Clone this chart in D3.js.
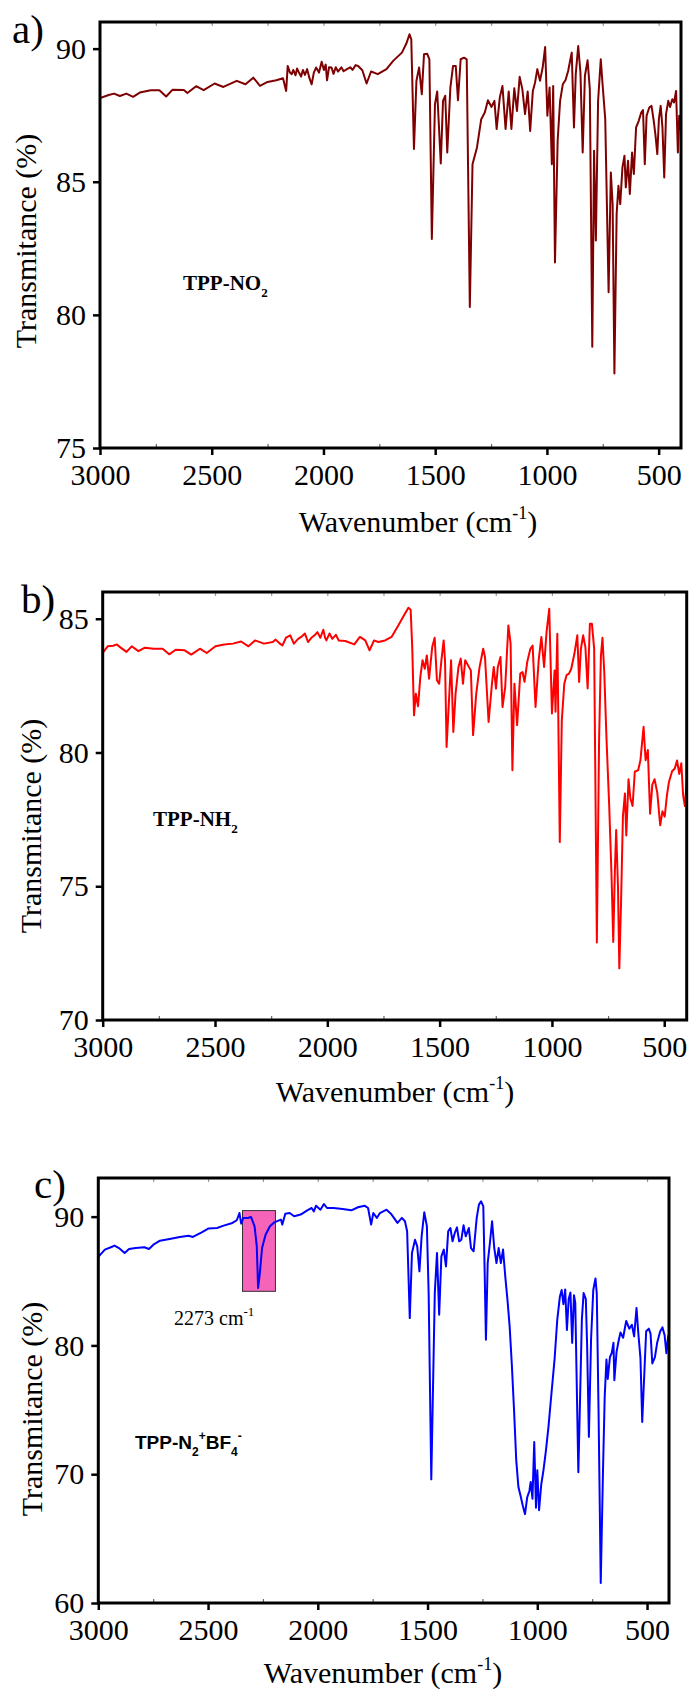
<!DOCTYPE html>
<html><head><meta charset="utf-8">
<script src="https://cdn.jsdelivr.net/npm/d3@7"></script>
<style>body{margin:0;background:#fff}svg{display:block}</style>
</head><body>
<svg id="chart" width="690" height="1693"></svg>
<script>
// ---------- tick labels ----------
const xTickValues = [3000, 2500, 2000, 1500, 1000, 500];
const xMinorValues = [2750, 2250, 1750, 1250, 750];
const yTicksA = [75, 80, 85, 90];
const yTicksB = [70, 75, 80, 85];
const yTicksC = [60, 70, 80, 90];

// ---------- series: TPP-NO2 ----------
const wavenumberA = [3000,2961,2937,2911,2882,2852,2822,2773,2734,2704,2675,2625,2609,2570,2536,2487,2448,2388,2349,2314,2284,2250,2211,2181,2167,2160,2150,2142,2135,2125,2118,2112,2100,2092,2083,2073,2063,2053,2043,2033,2020,2008,1998,1990,1984,1975,1964,1955,1945,1935,1920,1910,1895,1880,1870,1856,1845,1826,1807,1787,1757,1718,1688,1649,1629,1615,1607,1595,1584,1572,1560,1550,1536,1526,1515,1501,1491,1475,1465,1455,1446,1432,1420,1408,1398,1386,1371,1359,1345,1333,1313,1294,1278,1264,1248,1235,1225,1211,1199,1185,1171,1159,1146,1134,1122,1110,1098,1086,1075,1063,1053,1043,1031,1019,1008,998,988,978,972,964,952,941,929,917,905,895,889,879,871,860,850,840,830,818,808,797,789,781,771,759,751,739,724,714,706,698,688,680,672,662,653,647,637,629,619,611,601,589,578,570,562,554,542,532,522,514,506,499,491,483,475,467,457,449,439,431,422,414,408,400];
const transmittanceA = [88.14,88.26,88.31,88.22,88.31,88.19,88.35,88.44,88.44,88.2,88.46,88.45,88.33,88.59,88.44,88.69,88.56,88.79,88.66,88.91,88.6,88.75,88.81,88.89,88.41,89.35,89.1,89.04,89.2,89.0,89.25,89.14,88.95,89.2,89.01,89.23,88.9,88.66,89.1,89.29,89.1,89.51,89.2,89.4,88.81,89.3,89.29,89.05,89.3,89.14,89.3,89.15,89.23,89.3,89.2,89.38,89.35,89.19,88.69,89.14,89.04,89.23,89.54,89.85,90.19,90.54,90.35,86.23,88.79,89.29,88.29,89.79,89.81,89.6,82.85,87.91,88.39,85.69,88.04,88.23,86.1,88.54,89.35,89.35,88.06,89.6,89.66,89.6,80.3,85.66,86.29,87.35,87.6,88.06,87.81,88.04,86.98,88.16,88.6,86.98,88.39,86.98,88.51,87.66,88.94,88.48,87.54,88.39,86.91,88.41,88.73,89.23,88.79,89.29,90.06,87.48,88.54,85.66,88.6,81.97,86.54,88.04,88.66,88.81,89.16,89.6,89.85,87.04,89.04,90.1,89.1,86.1,88.98,89.56,88.48,78.8,86.16,82.79,88.04,89.6,88.66,87.35,80.85,85.35,84.16,77.8,83.79,84.85,84.16,85.54,85.98,84.79,85.79,84.54,86.1,85.29,87.04,87.29,87.6,87.69,85.66,87.48,87.79,87.85,87.29,86.73,86.04,87.35,87.85,87.04,85.16,87.54,88.04,87.81,88.1,87.98,88.41,86.1,87.48,86.91];

// ---------- series: TPP-NH2 ----------
const wavenumberB = [3000,2978,2953,2937,2920,2894,2871,2841,2812,2773,2733,2704,2675,2635,2606,2567,2537,2498,2459,2420,2384,2351,2322,2282,2243,2230,2214,2200,2184,2165,2149,2130,2116,2100,2086,2072,2057,2044,2031,2018,2010,2004,1990,1978,1962,1949,1920,1880,1855,1831,1812,1792,1773,1743,1714,1684,1659,1639,1629,1622,1614,1606,1596,1586,1576,1566,1557,1547,1533,1522,1512,1502,1492,1482,1476,1469,1459,1449,1439,1429,1416,1406,1396,1386,1371,1361,1351,1337,1322,1306,1298,1282,1267,1259,1249,1241,1229,1220,1208,1194,1184,1176,1167,1155,1141,1131,1122,1110,1096,1086,1073,1059,1047,1035,1024,1012,1000,988,984,976,965,956,945,935,924,914,900,887,879,871,861,851,841,831,822,812,800,790,782,775,767,757,745,735,727,720,714,706,700,692,684,675,669,659,651,641,631,616,606,592,583,573,563,553,543,531,518,508,498,488,479,465,453,443,433,424,416,408,400];
const transmittanceB = [83.72,83.97,83.99,84.04,83.92,83.76,83.97,83.79,83.92,83.88,83.88,83.67,83.84,83.82,83.66,83.88,83.72,83.97,84.04,84.07,84.15,83.97,84.19,84.07,84.13,84.22,84.09,84.0,84.29,84.38,84.07,84.25,84.32,84.45,84.13,84.28,84.38,84.5,84.29,84.59,84.3,84.19,84.45,84.25,84.4,84.19,84.17,84.04,84.32,84.19,83.82,84.19,84.13,84.19,84.32,84.75,85.12,85.41,85.34,83.94,81.39,82.2,81.73,82.82,83.45,83.13,83.63,82.76,83.94,84.29,82.7,82.57,83.45,84.19,83.45,80.21,81.83,83.45,80.77,82.2,83.2,83.51,82.57,83.45,83.22,83.07,80.65,82.2,83.2,83.88,83.57,81.14,82.57,83.2,82.39,83.2,83.57,81.7,82.45,84.75,84.07,79.34,82.57,81.02,82.95,83.01,82.64,83.38,83.88,84.0,81.7,83.45,84.32,83.2,84.5,85.37,81.46,83.07,81.52,84.44,76.65,81.2,82.57,82.89,82.95,83.13,83.69,84.38,82.64,83.88,84.38,83.94,82.39,84.81,84.81,83.88,72.9,80.5,83.6,84.29,83.0,80.5,78.0,75.5,72.92,75.5,77.1,75.0,71.93,74.5,77.6,78.47,76.9,79.0,78.3,78.0,79.28,79.34,79.71,80.96,79.71,80.09,77.71,78.8,79.0,78.5,77.28,77.8,77.6,78.4,78.9,79.3,79.4,79.7,79.2,79.6,78.4,78.0,78.9];

// ---------- series: TPP-N2+BF4- ----------
const wavenumberC = [3000,2970,2940,2926,2906,2880,2860,2830,2790,2769,2749,2719,2669,2629,2589,2569,2529,2499,2459,2429,2389,2369,2357,2349,2339,2319,2304,2288,2278,2272,2264,2254,2238,2218,2198,2168,2162,2148,2128,2108,2078,2048,2028,2018,2008,1988,1972,1958,1928,1887,1847,1817,1787,1771,1757,1747,1731,1717,1687,1667,1637,1617,1603,1593,1581,1571,1557,1547,1537,1527,1515,1503,1495,1483,1467,1457,1447,1437,1426,1416,1406,1396,1386,1376,1366,1356,1346,1336,1326,1312,1302,1290,1276,1266,1256,1246,1240,1234,1226,1216,1206,1196,1186,1176,1166,1156,1146,1136,1126,1116,1106,1096,1086,1076,1066,1056,1046,1036,1030,1022,1014,1006,1000,992,982,972,961,949,938,921,909,897,889,881,873,865,857,849,841,833,827,813,805,797,789,779,773,765,755,745,735,729,721,711,701,693,685,679,669,661,653,649,639,629,621,609,595,581,569,559,548,540,530,522,512,504,492,484,476,464,454,440,430,420,412,404,400];
const transmittanceC = [86.87,87.44,87.64,87.75,87.56,87.18,87.49,87.56,87.62,87.49,87.82,88.13,88.29,88.42,88.52,88.42,88.78,89.07,89.12,89.3,89.51,89.72,90.28,89.46,89.9,89.9,89.97,89.25,87.69,84.46,85.62,87.56,88.6,89.25,89.56,89.77,89.38,90.23,90.28,90.03,90.16,90.49,90.67,90.41,90.85,90.54,90.98,90.67,90.67,90.6,90.49,90.73,90.85,90.67,89.38,90.28,89.9,90.28,90.54,90.23,89.51,89.9,89.64,88.86,82.12,87.18,88.21,87.69,85.75,88.47,90.34,89.25,84.07,69.6,84.07,87.18,82.38,86.92,87.44,86.14,88.86,89.12,88.08,88.73,89.17,88.08,88.21,89.33,88.47,89.12,87.56,87.31,89.9,90.93,91.19,90.8,85.88,80.44,86.4,87.95,89.64,87.56,86.4,87.56,86.4,87.44,85.36,83.55,81.48,78.5,75.0,71.1,69.0,68.3,67.55,66.9,68.2,68.7,69.4,68.1,72.5,67.4,70.3,67.2,69.2,70.3,71.8,73.7,75.8,79.0,82.0,83.8,84.3,83.2,84.35,81.2,83.6,84.1,80.2,83.9,83.3,70.16,76.0,82.0,84.07,83.6,80.0,72.9,80.5,84.3,85.2,84.0,75.0,61.56,70.0,76.0,78.9,77.4,79.1,79.4,80.2,77.3,79.5,80.4,81.0,80.6,81.9,81.3,81.6,80.7,82.9,81.0,79.0,74.06,78.0,81.1,81.3,80.9,78.6,79.1,80.2,81.1,81.4,80.8,79.4,80.7,80.8];

// annotation box around the 2273 cm-1 band (data units)
const boxWavenumber = [2343, 2193];
const boxTransmittance = [90.47, 84.2];

const svg = d3.select("#chart");
const SERIF = "'Liberation Serif','Times New Roman',serif";
const SANS = "'Liberation Sans',Arial,sans-serif";

function drawPanel(p) {
  const x = d3.scaleLinear().domain([3000, 400]).range([p.left, p.right]);
  const y = d3.scaleLinear().domain(p.yDomain).range([p.bottom, p.top]);
  const g = svg.append("g");

  const top = g.append("g").attr("transform", `translate(0,${p.top})`)
    .call(d3.axisTop(x).tickValues(xTickValues.concat(xMinorValues)).tickSize(-4).tickFormat(""));
  top.select(".domain").remove();
  top.selectAll("line").attr("stroke", "#999").attr("stroke-width", 1.2);

  const bm = g.append("g").attr("transform", `translate(0,${p.bottom})`)
    .call(d3.axisBottom(x).tickValues(xMinorValues).tickSize(-4).tickFormat(""));
  bm.select(".domain").remove();
  bm.selectAll("line").attr("stroke", "#666").attr("stroke-width", 1.2);

  const pts = p.wn.map((w, i) => [w, p.t[i]]);
  const clipId = "clip" + p.id;
  svg.append("clipPath").attr("id", clipId).append("rect")
    .attr("x", p.left).attr("y", p.top).attr("width", p.right - p.left).attr("height", p.bottom - p.top);
  g.append("path").datum(pts)
    .attr("clip-path", `url(#${clipId})`)
    .attr("fill", "none").attr("stroke", p.color).attr("stroke-width", 2)
    .attr("stroke-linejoin", "round")
    .attr("d", d3.line().x(d => x(d[0])).y(d => y(d[1])));

  const bx = g.append("g").attr("transform", `translate(0,${p.bottom})`)
    .call(d3.axisBottom(x).tickValues(xTickValues).tickFormat(d3.format("d"))
      .tickSize(7).tickPadding(9).tickSizeOuter(0));
  bx.select(".domain").remove();
  bx.selectAll("line").attr("stroke", "#000").attr("stroke-width", 2.5);
  bx.selectAll("text").attr("font-family", SERIF).attr("font-size", 30).attr("fill", "#000");

  const ly = g.append("g").attr("transform", `translate(${p.left},0)`)
    .call(d3.axisLeft(y).tickValues(p.yTicks).tickFormat(d3.format("d"))
      .tickSize(7).tickPadding(7).tickSizeOuter(0));
  ly.select(".domain").remove();
  ly.selectAll("line").attr("stroke", "#000").attr("stroke-width", 2.5);
  ly.selectAll("text").attr("font-family", SERIF).attr("font-size", 30).attr("fill", "#000");

  g.append("rect").attr("x", p.left).attr("y", p.top)
    .attr("width", p.right - p.left).attr("height", p.bottom - p.top)
    .attr("fill", "none").attr("stroke", "#000").attr("stroke-width", 3);

  const xt = g.append("text").attr("x", p.xTitleX).attr("y", p.bottom + p.xTitleDy)
    .attr("text-anchor", "middle").attr("font-family", SERIF).attr("font-size", 30);
  xt.append("tspan").text("Wavenumber (cm");
  xt.append("tspan").attr("font-size", 18).attr("dy", -13).text("-1");
  xt.append("tspan").attr("dy", 13).text(")");

  g.append("text").attr("transform", `translate(${p.yTitleX},${p.yTitleY}) rotate(-90)`)
    .attr("text-anchor", "middle").attr("font-family", SERIF).attr("font-size", 30)
    .text("Transmitance (%)");

  g.append("text").attr("x", p.letterX).attr("y", p.letterY)
    .attr("font-family", SERIF).attr("font-size", 41).text(p.letter);

  return {x, y, g};
}

const A = drawPanel({id: "a", left: 100, right: 681, top: 22, bottom: 448, yDomain: [75, 91], yTicks: yTicksA,
  wn: wavenumberA, t: transmittanceA, color: "#7f0000",
  xTitleX: 418, xTitleDy: 84, yTitleX: 36, yTitleY: 241, letter: "a)", letterX: 12, letterY: 43});
{
  const t = A.g.append("text").attr("x", 183).attr("y", 290).attr("font-family", SERIF)
    .attr("font-weight", "bold").attr("font-size", 21);
  t.append("tspan").text("TPP-NO");
  t.append("tspan").attr("font-size", 13).attr("dy", 7).text("2");
}

const B = drawPanel({id: "b", left: 102.7, right: 686.7, top: 592, bottom: 1020, yDomain: [70, 86], yTicks: yTicksB,
  wn: wavenumberB, t: transmittanceB, color: "#ff0000",
  xTitleX: 395, xTitleDy: 82, yTitleX: 41, yTitleY: 826, letter: "b)", letterX: 21, letterY: 613});
{
  const t = B.g.append("text").attr("x", 153).attr("y", 826).attr("font-family", SERIF)
    .attr("font-weight", "bold").attr("font-size", 21);
  t.append("tspan").text("TPP-NH");
  t.append("tspan").attr("font-size", 13).attr("dy", 7).text("2");
}

const C = drawPanel({id: "c", left: 98.3, right: 669, top: 1178, bottom: 1603, yDomain: [60, 93], yTicks: yTicksC,
  wn: wavenumberC, t: transmittanceC, color: "#0000ff",
  xTitleX: 383, xTitleDy: 80, yTitleX: 42, yTitleY: 1409, letter: "c)", letterX: 34, letterY: 1198});
{
  const x = C.x, y = C.y;
  C.g.insert("rect", "path")
    .attr("x", x(boxWavenumber[0])).attr("y", y(boxTransmittance[0]))
    .attr("width", x(boxWavenumber[1]) - x(boxWavenumber[0]))
    .attr("height", y(boxTransmittance[1]) - y(boxTransmittance[0]))
    .attr("fill", "#f564b8").attr("stroke", "#333").attr("stroke-width", 1);
  const a = C.g.append("text").attr("x", 174).attr("y", 1325).attr("font-family", SERIF).attr("font-size", 20);
  a.append("tspan").text("2273 cm");
  a.append("tspan").attr("font-size", 13).attr("dy", -9).text("-1");

  const t = C.g.append("text").attr("x", 135).attr("y", 1449).attr("font-family", SANS)
    .attr("font-weight", "bold").attr("font-size", 19);
  t.append("tspan").text("TPP-N");
  t.append("tspan").attr("font-size", 12).attr("dy", 7).text("2");
  t.append("tspan").attr("font-size", 12).attr("dy", -16).text("+");
  t.append("tspan").attr("dy", 9).text("BF");
  t.append("tspan").attr("font-size", 12).attr("dy", 7).text("4");
  t.append("tspan").attr("font-size", 12).attr("dy", -16).text("-");
}
</script>
</body></html>
